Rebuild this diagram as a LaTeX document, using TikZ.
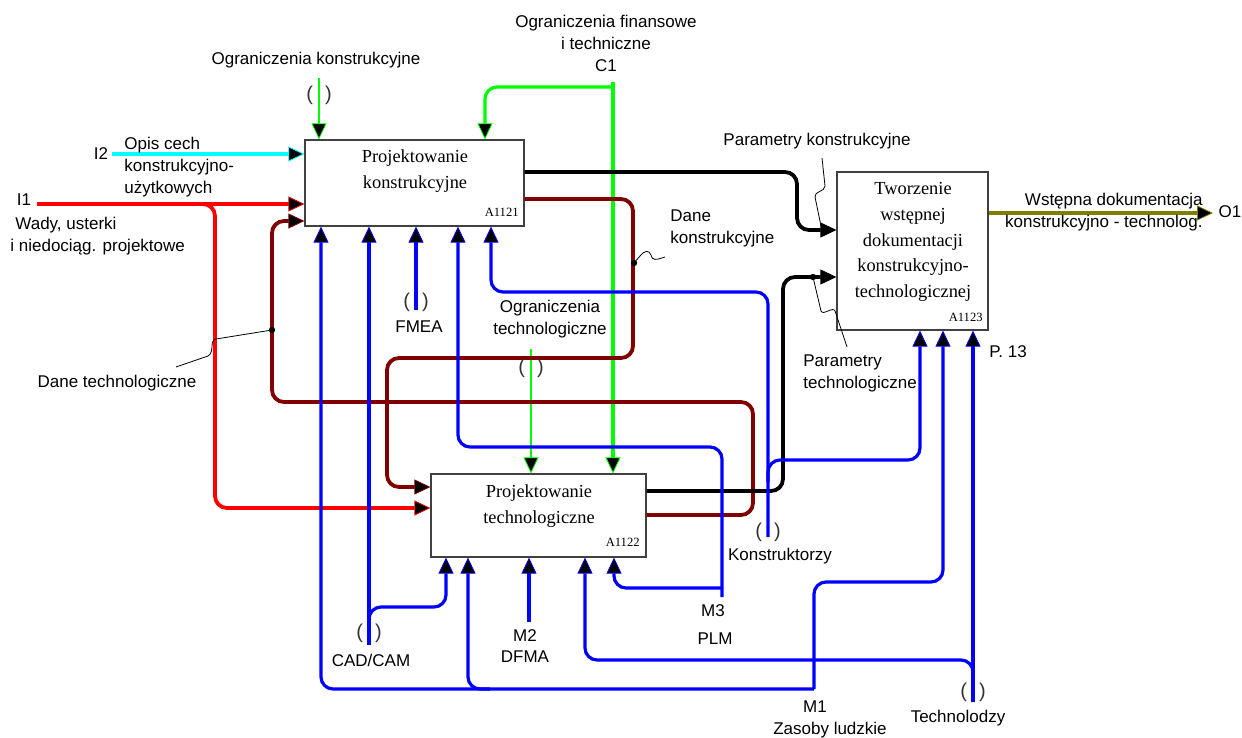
\documentclass[tikz,border=0pt]{standalone}
\usepackage{fontspec}
\setmainfont{Liberation Serif}
\setsansfont{Liberation Sans}
\usetikzlibrary{arrows.meta}
\definecolor{cRed}{RGB}{255,0,0}
\definecolor{cCyan}{RGB}{0,255,255}
\definecolor{cGreen}{RGB}{0,255,0}
\definecolor{cBlue}{RGB}{0,0,255}
\definecolor{cMaroon}{RGB}{128,0,0}
\definecolor{cOlive}{RGB}{128,128,0}
\tikzset{
 box/.style={draw=black!75, line width=0.6pt, fill=white, inner sep=0pt},
 lbl/.style={font=\sffamily\fontsize{8.5}{11}\selectfont, inner sep=0pt},
 btxt/.style={font=\rmfamily\fontsize{9.2}{13}\selectfont, align=center, inner sep=0pt},
 code/.style={font=\rmfamily\fontsize{6.3}{7}\selectfont, inner sep=0pt},
 paren/.style={font=\sffamily\fontsize{10}{10}\selectfont, inner sep=0pt, text=black!80},
 arr/.style={-{Triangle[length=8pt,width=7.5pt,fill=black,line width=0.4pt]}},
 thk/.style={line width=1.9pt, rounded corners=6pt},
 mid/.style={line width=1.6pt, rounded corners=6pt},
 thn/.style={line width=0.9pt},
 lead/.style={line width=0.4pt, black},
}
\begin{document}
\begin{tikzpicture}[x=0.5pt,y=-0.5pt]
\useasboundingbox (0,0) rectangle (1242,738);
% boxes
\node[box, minimum width=109.5pt, minimum height=43pt] (b1) at (414.5,183) {};
\node[box, minimum width=107.5pt, minimum height=41.5pt] (b2) at (538.5,515.5) {};
\node[box, minimum width=75.5pt, minimum height=79pt] (b3) at (912.5,251) {};
\node[btxt] (b1t) at (415,171) {Projektowanie\\konstrukcyjne};
\node[code, anchor=east] (b1c) at (519,212) {A1121};
\node[btxt] (b2t) at (539,506) {Projektowanie\\technologiczne};
\node[code, anchor=east] (b2c) at (640,542) {A1122};
\node[btxt, font=\rmfamily\fontsize{9.2}{12.9}\selectfont] (b3t) at (913,242) {Tworzenie\\wstępnej\\dokumentacji\\konstrukcyjno-\\technologicznej};
\node[code, anchor=east] (b3c) at (983,317) {A1123};
% coordinates
\coordinate (i1) at (37,204);
\coordinate (i2) at (112,154);
\coordinate (ck) at (319,78);
\coordinate (c1) at (613,82);
\coordinate (ct) at (531,349);
\coordinate (m1) at (814,689);
\coordinate (m2) at (529,622);
\coordinate (m3) at (722,597);
\coordinate (cad) at (369,645);
\coordinate (fmea) at (416,310);
\coordinate (kon) at (768,537);
\coordinate (tech) at (973,702);
\coordinate (o1) at (1213,213);
% controls
\draw[cGreen, thn, arr] (ck) -- (ck |- b1.north);
\draw[cGreen, mid, arr] (c1) -- (c1 |- b2.north);
\draw[cGreen, mid, arr] (613,87) -- (485,87) -- (b1.north -| 485,0);
\draw[cGreen, line width=1.3pt, arr] (ct) -- (ct |- b2.north);
% inputs
\draw[cCyan, thk, arr] (i2) -- (i2 -| b1.west);
\draw[cRed, thk, arr] (i1) -- (i1 -| b1.west);
\draw[cRed, thk, arr] (200,204) -- (215,204) -- (215,508) -- (b2.west |- 0,508);
% maroon feedback
\draw[cMaroon, thk, arr] (b2.east |- 0,515) -- (753,515) -- (753,402) -- (272,402) -- (272,221) -- (b1.west |- 0,221);
\draw[cMaroon, thk, arr] (b1.east |- 0,199) -- (633,199) -- (633,358) -- (387,358) -- (387,487) -- (b2.west |- 0,487);
% outputs
\draw[black, thk, arr] (b1.east |- 0,172) -- (797,172) -- (797,230) -- (b3.west |- 0,230);
\draw[black, thk, arr] (b2.east |- 0,491) -- (783,491) -- (783,277) -- (b3.west |- 0,277);
\draw[cOlive, thk, arr] (b3.east |- o1) -- (o1);
% mechanisms
\draw[cBlue, mid, arr] (m1) -- (814,582) -- (943,582) -- (b3.south -| 943,0);
\draw[cBlue, mid, arr] (m1) -- (321,689) -- (b1.south -| 321,0);
\draw[cBlue, mid, arr] (490,689) -- (468,689) -- (b2.south -| 468,0);
\draw[cBlue, mid, arr] (cad) -- (cad |- b1.south);
\draw[cBlue, mid, arr] (369,632) -- (369,607) -- (446,607) -- (b2.south -| 446,0);
\draw[cBlue, mid, arr] (m2) -- (m2 |- b2.south);
\draw[cBlue, mid, arr] (tech) -- (tech |- b3.south);
\draw[cBlue, mid, arr] (973,685) -- (973,660) -- (585,660) -- (b2.south -| 585,0);
\draw[cBlue, mid, arr] (m3) -- (722,447) -- (458,447) -- (b1.south -| 458,0);
\draw[cBlue, mid, arr] (722,588) -- (614,588) -- (b2.south -| 614,0);
\draw[cBlue, mid, arr] (kon) -- (768,292) -- (491,292) -- (b1.south -| 491,0);
\draw[cBlue, mid, arr] (768,482) -- (768,460) -- (920,460) -- (b3.south -| 920,0);
\draw[cBlue, mid, arr] (fmea) -- (fmea |- b1.south);
% leaders and dots
\fill (272,330) circle[radius=1.6pt];
\draw[lead] (272,330) -- (216,339) .. controls (209,340) and (215,352) .. (208,356) -- (176,367);
\fill (634,263) circle[radius=1.6pt];
\draw[lead] (634,263) -- (640,256) .. controls (645,250) and (649,250) .. (651,255) .. controls (652,261) and (656,260) .. (665,257);
\draw[lead] (821,226) -- (815,197) .. controls (814,191) and (825,192) .. (825,186) -- (822,158);
\fill (813,277) circle[radius=1.6pt];
\draw[lead] (813,277) -- (821,311) .. controls (823,316) and (833,306) .. (835,311) -- (847,347);
% labels
\node[lbl] (lck) at (316,60) {Ograniczenia konstrukcyjne};
\node[paren] (pck) at (319,95) {(\hspace{6pt})};
\node[lbl, align=center] (lc1) at (606,43) {Ograniczenia finansowe\\i techniczne\\C1};
\node[lbl, align=center] (lct) at (550,319) {Ograniczenia\\technologiczne};
\node[paren] (pct) at (531,368) {(\hspace{6pt})};
\node[lbl] (li2) at (101,154) {I2};
\node[lbl, align=left, anchor=west] (li2t) at (124,167) {Opis cech\\konstrukcyjno-\\użytkowych};
\node[lbl] (li1) at (24,200) {I1};
\node[lbl, anchor=west] (li1a) at (15,225) {Wady, usterki};
\node[lbl, anchor=west] (li1b) at (10,247) {i niedociąg. projektowe};
\node[lbl] (ldt) at (117,383) {Dane technologiczne};
\node[lbl, align=left, anchor=west] (ldk) at (670,228) {Dane\\konstrukcyjne};
\node[lbl] (lpk) at (817,141) {Parametry konstrukcyjne};
\node[lbl, align=left, anchor=west] (lpt) at (803,373) {Parametry\\technologiczne};
\node[lbl, align=right, anchor=east] (lo1t) at (1203,212) {Wstępna dokumentacja\\konstrukcyjno - technolog.};
\node[lbl] (lo1) at (1230,212) {O1};
\node[lbl] (lp13) at (1008,352) {P. 13};
\node[lbl] (lfm) at (419,327) {FMEA};
\node[paren] (pfm) at (416,302) {(\hspace{6pt})};
\node[lbl] (lcad) at (371,660) {CAD/CAM};
\node[paren] (pcad) at (369,633) {(\hspace{6pt})};
\node[lbl] (lm2) at (525,636) {M2};
\node[lbl] (ldf) at (525,657) {DFMA};
\node[lbl] (lm3) at (713,611) {M3};
\node[lbl] (lplm) at (715,639) {PLM};
\node[lbl] (lkon) at (780,556) {Konstruktorzy};
\node[paren] (pkon) at (768,532) {(\hspace{6pt})};
\node[lbl] (lm1) at (815,707) {M1};
\node[lbl] (lzl) at (830,730) {Zasoby ludzkie};
\node[lbl] (ltech) at (958,718) {Technolodzy};
\node[paren] (ptech) at (973,692) {(\hspace{6pt})};
\end{tikzpicture}
\end{document}
